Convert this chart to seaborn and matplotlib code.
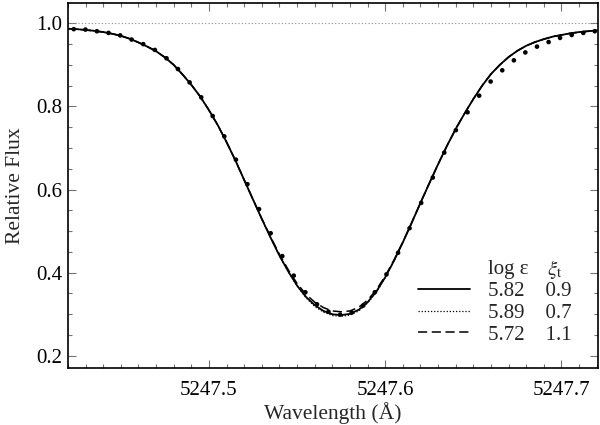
import numpy as np
import pandas as pd
import matplotlib
matplotlib.use("Agg")
import matplotlib.pyplot as plt
from matplotlib.ticker import MultipleLocator, FormatStrFormatter
from matplotlib.lines import Line2D
import seaborn as sns

# observed spectrum (dots)
obs_wl = [5247.4233, 5247.4299, 5247.4364, 5247.4430, 5247.4496, 5247.4561, 5247.4627,
          5247.4693, 5247.4759, 5247.4824, 5247.4890, 5247.4956, 5247.5021, 5247.5087,
          5247.5153, 5247.5218, 5247.5284, 5247.5350, 5247.5416, 5247.5481, 5247.5547,
          5247.5613, 5247.5678, 5247.5744, 5247.5810, 5247.5875, 5247.5941, 5247.6007,
          5247.6073, 5247.6138, 5247.6204, 5247.6270, 5247.6335, 5247.6401, 5247.6467,
          5247.6533, 5247.6598, 5247.6664, 5247.6730, 5247.6795, 5247.6861, 5247.6927,
          5247.6992, 5247.7058, 5247.7124, 5247.7189]
obs_flux = [0.986, 0.985, 0.981, 0.977, 0.971, 0.961, 0.950, 0.936, 0.916, 0.890, 0.858,
            0.822, 0.777, 0.728, 0.672, 0.613, 0.553, 0.495, 0.440, 0.393, 0.353, 0.324,
            0.306, 0.299, 0.304, 0.321, 0.353, 0.396, 0.448, 0.507, 0.568, 0.629, 0.689,
            0.743, 0.786, 0.826, 0.860, 0.887, 0.911, 0.930, 0.944, 0.955, 0.965, 0.972,
            0.977, 0.981]

# synthetic spectra
model_wl = [5247.420, 5247.425, 5247.430, 5247.435, 5247.440, 5247.445, 5247.450, 5247.455,
            5247.460, 5247.465, 5247.470, 5247.475, 5247.480, 5247.485, 5247.490, 5247.495,
            5247.500, 5247.505, 5247.510, 5247.515, 5247.520, 5247.525, 5247.530, 5247.535,
            5247.540, 5247.545, 5247.550, 5247.555, 5247.560, 5247.565, 5247.570, 5247.575,
            5247.580, 5247.585, 5247.590, 5247.595, 5247.600, 5247.605, 5247.610, 5247.615,
            5247.620, 5247.625, 5247.630, 5247.635, 5247.640, 5247.645, 5247.650, 5247.655,
            5247.660, 5247.665, 5247.670, 5247.675, 5247.680, 5247.685, 5247.690, 5247.695,
            5247.700, 5247.705, 5247.710, 5247.715, 5247.720]
flux_582 = [0.987, 0.986, 0.984, 0.982, 0.979, 0.975, 0.970, 0.963, 0.954, 0.944, 0.933,
            0.918, 0.900, 0.877, 0.852, 0.824, 0.791, 0.755, 0.714, 0.670, 0.623, 0.576,
            0.529, 0.484, 0.441, 0.403, 0.369, 0.342, 0.322, 0.308, 0.300, 0.298, 0.301,
            0.311, 0.329, 0.355, 0.389, 0.429, 0.473, 0.520, 0.568, 0.615, 0.661, 0.705,
            0.746, 0.783, 0.818, 0.850, 0.878, 0.900, 0.919, 0.934, 0.946, 0.955, 0.962,
            0.968, 0.972, 0.976, 0.979, 0.981, 0.983]
flux_589 = [0.987, 0.986, 0.984, 0.982, 0.979, 0.975, 0.970, 0.963, 0.954, 0.944, 0.933,
            0.918, 0.900, 0.877, 0.852, 0.824, 0.791, 0.755, 0.714, 0.670, 0.623, 0.576,
            0.529, 0.484, 0.440, 0.402, 0.368, 0.340, 0.319, 0.305, 0.297, 0.295, 0.298,
            0.308, 0.327, 0.353, 0.388, 0.428, 0.473, 0.520, 0.568, 0.615, 0.661, 0.705,
            0.746, 0.783, 0.818, 0.850, 0.878, 0.900, 0.919, 0.934, 0.946, 0.955, 0.962,
            0.968, 0.972, 0.976, 0.979, 0.981, 0.983]
flux_572 = [0.987, 0.986, 0.984, 0.982, 0.979, 0.975, 0.970, 0.963, 0.954, 0.944, 0.933,
            0.918, 0.900, 0.877, 0.852, 0.824, 0.791, 0.755, 0.714, 0.670, 0.623, 0.576,
            0.530, 0.486, 0.444, 0.407, 0.374, 0.348, 0.329, 0.316, 0.308, 0.306, 0.308,
            0.317, 0.334, 0.359, 0.392, 0.431, 0.474, 0.520, 0.568, 0.615, 0.661, 0.705,
            0.746, 0.783, 0.818, 0.850, 0.878, 0.900, 0.919, 0.934, 0.946, 0.955, 0.962,
            0.968, 0.972, 0.976, 0.979, 0.981, 0.983]

log_eps = ["5.82", "5.89", "5.72"]
xi_t = ["0.9", "0.7", "1.1"]

sns.set_theme(style="ticks")
plt.rcParams['font.family'] = ['Liberation Serif', 'DejaVu Serif']
plt.rcParams['mathtext.fontset'] = 'stix'

obs = pd.DataFrame({'wl': obs_wl, 'flux': obs_flux})
mod = pd.DataFrame({'wl': model_wl, 'a': flux_582, 'b': flux_589, 'c': flux_572})

fig = plt.figure(figsize=(6, 4.25), dpi=100)
ax = fig.add_axes([0.1133, 0.1334, 0.8827, 0.8596])

ax.axhline(1.0, color='0.55', lw=0.8, ls=(0, (1, 2)), zorder=1)

sns.lineplot(data=mod, x='wl', y='b', ax=ax, color='black', lw=0.9,
             linestyle=(0, (1, 1.5)), sort=False)
sns.lineplot(data=mod, x='wl', y='c', ax=ax, color='black', lw=1.1,
             linestyle=(0, (6, 3)), sort=False)
sns.lineplot(data=mod, x='wl', y='a', ax=ax, color='black', lw=1.3, sort=False)
sns.scatterplot(data=obs, x='wl', y='flux', ax=ax, color='black', s=11,
                edgecolor='none', zorder=5)

ax.set_xlim(5247.42, 5247.7205)
ax.set_ylim(0.17, 1.049)
ax.set_xticks([5247.5, 5247.6, 5247.7])
ax.set_yticks([0.2, 0.4, 0.6, 0.8, 1.0])
ax.xaxis.set_minor_locator(MultipleLocator(0.01))
ax.yaxis.set_minor_locator(MultipleLocator(0.05))
ax.xaxis.set_major_formatter(FormatStrFormatter('%.1f'))
ax.yaxis.set_major_formatter(FormatStrFormatter('%.1f'))
ax.tick_params(which='both', direction='in', top=True, right=True,
               color='0.45', width=0.8, labelsize=15, labelcolor='black')
ax.tick_params(which='major', length=5.5)
ax.tick_params(which='minor', length=3)
ax.tick_params(axis='x', pad=9)
ax.tick_params(axis='y', pad=4)
for sp in ax.spines.values():
    sp.set_color('black')
    sp.set_linewidth(1.2)

ax.set_xlabel('Wavelength (Å)', fontsize=15.5, labelpad=2)
ax.set_ylabel('Relative Flux', fontsize=15.5, labelpad=8)

handles = [Line2D([], [], color='black', lw=1.3),
           Line2D([], [], color='black', lw=0.9, linestyle=(0, (1, 1.5))),
           Line2D([], [], color='black', lw=1.1, linestyle=(0, (6, 3)))]
labels = [f"{a}    {b}" for a, b in zip(log_eps, xi_t)]
ax.legend(handles, labels, loc='upper left', bbox_to_anchor=(0.661, 0.237),
          frameon=False, fontsize=15, handlelength=2.5, handletextpad=0.85,
          labelspacing=0.1, borderpad=0, borderaxespad=0)
ax.text(0.793, 0.271, 'log ε', transform=ax.transAxes, fontsize=15,
        va='center', ha='left')
ax.text(0.904, 0.271, r'$\xi_{\mathrm{t}}$', transform=ax.transAxes, fontsize=15,
        va='center', ha='left')

fig.savefig('out.png', dpi=100)
